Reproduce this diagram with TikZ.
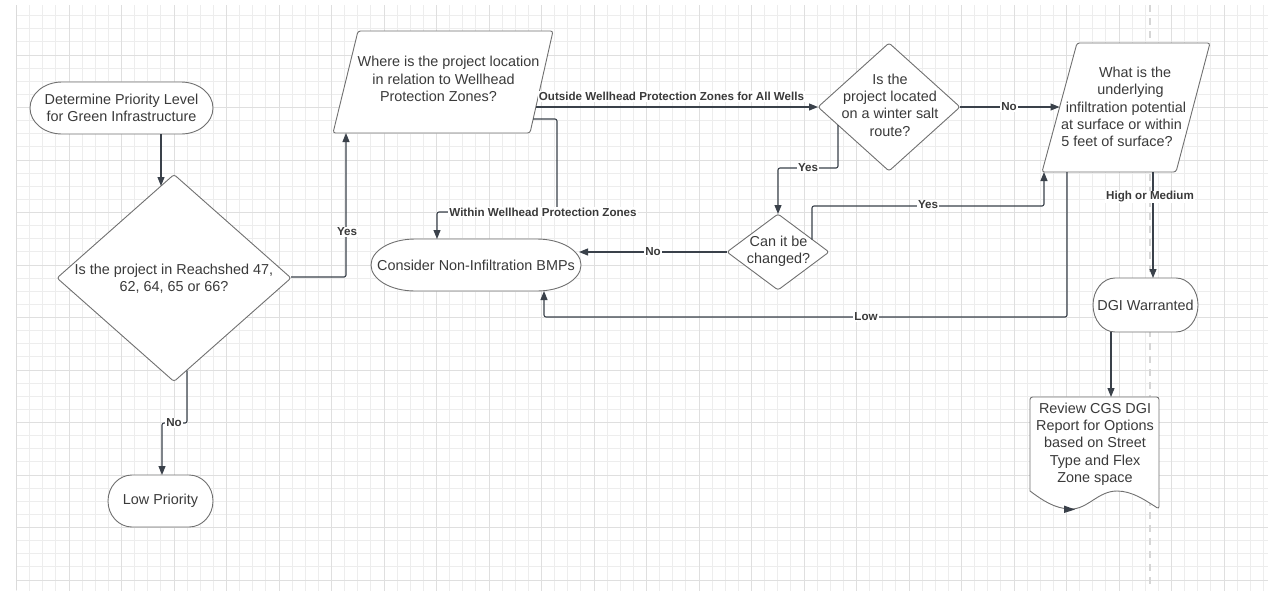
\documentclass[tikz,border=0pt]{standalone}
\usepackage{fontspec}
\setmainfont{Liberation Sans}
\usetikzlibrary{arrows.meta}

\definecolor{gridminor}{HTML}{EDEDED}
\definecolor{gridmajor}{HTML}{DFDFDF}
\definecolor{edgecol}{HTML}{3A414A}
\definecolor{bordercol}{HTML}{707070}
\definecolor{textcol}{HTML}{3A3A3A}
\definecolor{lanecol}{HTML}{D6D6D6}

\tikzset{
  shapeline/.style={draw=bordercol, line width=0.9pt, fill=white, rounded corners=2.5pt},
  txt/.style={text=textcol, font=\fontsize{14.4}{17.3}\selectfont, align=center, inner sep=0pt},
  conn/.style={draw=edgecol, line width=1.1pt, rounded corners=2pt, -{Triangle[length=9pt,width=7pt]}},
  elabel/.style={text=textcol, font=\fontsize{11.6}{13}\selectfont\bfseries, fill=white, inner sep=1pt},
}

% terminator outline: name, cx, cy, width, height, end radius, text
\newcommand\flowTerm[7]{%
  \pgfmathsetmacro\fxL{#2-#4/2}\pgfmathsetmacro\fxR{#2+#4/2}%
  \pgfmathsetmacro\fyT{#3-#5/2}\pgfmathsetmacro\fyB{#3+#5/2}%
  \pgfmathsetmacro\fry{#5/2}%
  \path[shapeline, sharp corners] (\fxL+#6,\fyT) -- (\fxR-#6,\fyT)
    arc[start angle=-90, end angle=90, x radius=#6, y radius=\fry]
    -- (\fxL+#6,\fyB)
    arc[start angle=90, end angle=270, x radius=#6, y radius=\fry] -- cycle;
  \node[txt] (#1) at (#2,#3) {#7};}

% diamond outline: cx, cy, half width, half height
\newcommand\flowDiamond[4]{%
  \path[shapeline] (#1,#2-#4) -- (#1+#3,#2) -- (#1,#2+#4) -- (#1-#3,#2) -- cycle;}

\begin{document}
\begin{tikzpicture}[x=1pt, y=-1pt]
  \useasboundingbox (0,0) rectangle (1268,590);
  \fill[white] (0,0) rectangle (1268,590);

  % background grid
  \begin{scope}
    \clip (16.5,5) rectangle (1268,590);
    \foreach \i in {0,...,96} \draw[gridminor, line width=0.8pt] ({16.5+13.125*\i},0) -- ++(0,600);
    \foreach \j in {0,...,45} \draw[gridminor, line width=0.8pt] (0,{2.5+13.125*\j}) -- ++(1300,0);
    \foreach \i in {0,...,24} \draw[gridmajor, line width=1pt] ({16.5+52.5*\i},0) -- ++(0,600);
    \foreach \j in {0,...,11} \draw[gridmajor, line width=1pt] (0,{2.5+52.5*\j}) -- ++(1300,0);
  \end{scope}
  \draw[lanecol!90!black!60, line width=1.2pt] (16.5,5) -- (16.5,590);

  % lane divider
  \draw[lanecol, line width=2.4pt, dash pattern=on 7pt off 6pt] (1150,5) -- (1150,590);

  % ---------- shapes ----------
  \flowTerm{start}{121.5}{108}{183}{52}{32}{Determine Priority Level\\for Green Infrastructure}

  \flowDiamond{174}{278}{117}{103.5}
  \node[txt] (reach) at (174,278.5) {Is the project in Reachshed 47,\\62, 64, 65 or 66?};

  \flowTerm{low}{160.5}{501}{105}{52}{24}{Low Priority}

  \path[shapeline] (358,31) -- (553,31) -- (530,133) -- (333,133) -- cycle;
  \node[txt] (wellq) at (443.5,79)
    {\hspace*{10pt}Where is the project location\\in relation to Wellhead\\Protection Zones?\hspace*{10pt}\mbox{}};

  \flowTerm{nonbmp}{476}{265}{210}{52}{44}{Consider Non-Infiltration BMPs}

  \flowDiamond{889}{107}{71}{64}
  \node[txt] (salt) at (890,105) {Is the\\project located\\on a winter salt\\route?};

  \flowDiamond{778}{252}{51}{38}
  \node[txt] (change) at (778.5,251) {Can it be\\changed?};

  \path[shapeline] (1077,43) -- (1210,43) -- (1176,172) -- (1042,172) -- cycle;
  \node[txt] (infil) at (1126,107)
    {\hspace*{18pt}What is the\\\hspace*{9pt}underlying\\infiltration potential\\at surface or within\hspace*{9pt}\mbox{}\\5 feet of surface?\hspace*{18pt}\mbox{}};

  \flowTerm{dgi}{1145.5}{305}{105}{54}{22}{DGI Warranted}

  \path[draw=bordercol, line width=0.9pt, fill=white]
    (1030,491) [rounded corners=2.5pt] -- (1030,397) -- (1159,397) -- (1159,509) [sharp corners]
    .. controls (1145,500) and (1132,491) .. (1117,491)
    .. controls (1098,491) and (1088,509) .. (1071,509)
    .. controls (1055,509) and (1042,500) .. (1030,491) -- cycle;
  \node[txt] (review) at (1095,444)
    {Review CGS DGI\\Report for Options\\based on Street\\Type and Flex\\Zone space};
  \fill[edgecol] (1064,505.5) -- (1075,509.5) -- (1064,513) -- cycle;

  % ---------- connection points ----------
  \coordinate (startS) at (161,134);
  \coordinate (reachN) at (161,186);
  \coordinate (reachS) at (187,370.5);
  \coordinate (lowN)   at (162,475);
  \coordinate (reachE) at (291,277);
  \coordinate (wellS)  at (346,133);
  \coordinate (wellE1) at (535.5,107);
  \coordinate (saltW)  at (818,107);
  \coordinate (wellE2) at (533,119);
  \coordinate (bmpN)   at (437,239);
  \coordinate (saltSW) at (838,125);
  \coordinate (changeN) at (778,214);
  \coordinate (saltE)  at (960,107);
  \coordinate (infilW) at (1059.5,107);
  \coordinate (changeW) at (727,252);
  \coordinate (bmpE)   at (579,252);
  \coordinate (changeNE) at (812,239.5);
  \coordinate (infilS1) at (1044,172);
  \coordinate (infilS2) at (1067,172);
  \coordinate (bmpS)   at (544,291);
  \coordinate (infilS3) at (1153,172);
  \coordinate (dgiN)   at (1153,278);
  \coordinate (dgiS)   at (1111,331.5);
  \coordinate (reviewN) at (1111,397);

  % ---------- connectors ----------
  \draw[conn] (startS) -- (reachN);
  \draw[conn] (reachS) |- (174,423) -| (lowN);
  \node[elabel] (lblNo1) at (174,423) {No};

  \draw[conn] (reachE) -| (wellS);
  \node[elabel] (lblYes1) at (347,232) {Yes};

  \draw[conn] (wellE1) -- (saltW);
  \node[elabel, anchor=south] (lblOut) at (671.5,102) {Outside Wellhead Protection Zones for All Wells};

  \draw[conn] (wellE2) -- (557,119) -- (557,212) -- (437,212) -- (bmpN);
  \node[elabel] (lblWithin) at (543,212) {Within Wellhead Protection Zones};

  \draw[conn] (saltSW) -- (838,168) -- (778,168) -- (changeN);
  \node[elabel] (lblYes2) at (808,168) {Yes};

  \draw[conn] (saltE) -- (infilW);
  \node[elabel] (lblNo2) at (1009,107) {No};

  \draw[conn] (changeW) -- (bmpE);
  \node[elabel] (lblNo3) at (653,252) {No};

  \draw[conn] (changeNE) -- (812,206) -- (1044,206) -- (infilS1);
  \node[elabel] (lblYes3) at (928,205) {Yes};

  \draw[conn] (infilS2) -- (1067,317) -- (544,317) -- (bmpS);
  \node[elabel] (lblLow) at (866,317) {Low};

  \draw[conn] (infilS3) -- (dgiN);
  \node[elabel] (lblHigh) at (1150,197) {High or Medium};

  \draw[conn] (dgiS) -- (reviewN);
\end{tikzpicture}
\end{document}
